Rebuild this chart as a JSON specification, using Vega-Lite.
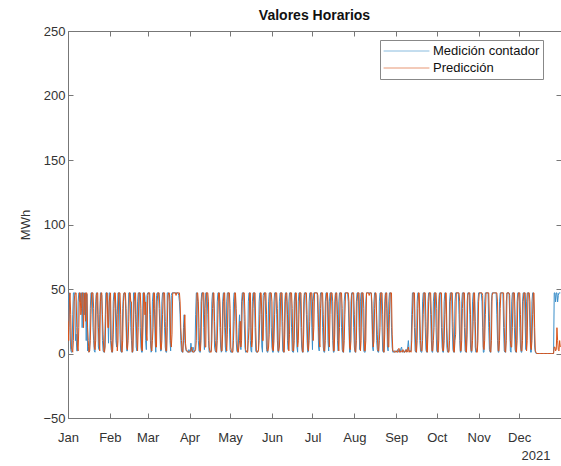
{
"$schema": "https://vega.github.io/schema/vega-lite/v6.json",
"autosize": {"type": "none"},
"padding": {"left": 68, "top": 31, "right": 0, "bottom": 48},
"width": 493,
"height": 387,
"background": "white",
"title": {"text": "Valores Horarios", "font": "Liberation Sans", "fontSize": 14, "fontWeight": "bold", "color": "#111", "anchor": "middle", "offset": 2},
"config": {
  "view": {"stroke": "#777", "strokeWidth": 1},
  "axis": {"grid": false, "domain": false, "labelFont": "Liberation Sans", "labelFontSize": 13, "labelColor": "#333", "titleFont": "Liberation Sans", "titleFontSize": 13, "titleFontWeight": "normal", "titleColor": "#333", "tickColor": "#777", "tickSize": -5}
},
"data": {"values": [
{"d":"2021-01-01","m":20,"p":25},{"d":"2021-01-02","m":47,"p":40},{"d":"2021-01-03","m":3,"p":30},{"d":"2021-01-04","m":1,"p":2},{"d":"2021-01-05","m":47,"p":10},{"d":"2021-01-06","m":47,"p":45},{"d":"2021-01-07","m":15,"p":47},{"d":"2021-01-08","m":2,"p":5},{"d":"2021-01-09","m":47,"p":20},{"d":"2021-01-10","m":40,"p":47},{"d":"2021-01-11","m":47,"p":35},{"d":"2021-01-12","m":47,"p":47},{"d":"2021-01-13","m":30,"p":40},{"d":"2021-01-14","m":47,"p":25},{"d":"2021-01-15","m":46,"p":47},{"d":"2021-01-16","m":5,"p":10},{"d":"2021-01-17","m":2,"p":2},{"d":"2021-01-18","m":47,"p":30},{"d":"2021-01-19","m":47,"p":47},{"d":"2021-01-20","m":10,"p":35},{"d":"2021-01-21","m":1,"p":3},{"d":"2021-01-22","m":47,"p":45},{"d":"2021-01-23","m":30,"p":47},{"d":"2021-01-24","m":3,"p":8},{"d":"2021-01-25","m":47,"p":40},{"d":"2021-01-26","m":45,"p":47},{"d":"2021-01-27","m":2,"p":15},{"d":"2021-01-28","m":1,"p":1},{"d":"2021-01-29","m":47,"p":30},{"d":"2021-01-30","m":47,"p":47},{"d":"2021-01-31","m":8,"p":20},
{"d":"2021-02-01","m":47,"p":45},{"d":"2021-02-02","m":3,"p":10},{"d":"2021-02-03","m":1,"p":2},{"d":"2021-02-04","m":47,"p":35},{"d":"2021-02-05","m":40,"p":47},{"d":"2021-02-06","m":5,"p":20},{"d":"2021-02-07","m":47,"p":10},{"d":"2021-02-08","m":47,"p":47},{"d":"2021-02-09","m":2,"p":30},{"d":"2021-02-10","m":1,"p":1},{"d":"2021-02-11","m":45,"p":40},{"d":"2021-02-12","m":47,"p":47},{"d":"2021-02-13","m":20,"p":35},{"d":"2021-02-14","m":2,"p":3},{"d":"2021-02-15","m":47,"p":25},{"d":"2021-02-16","m":47,"p":47},{"d":"2021-02-17","m":10,"p":40},{"d":"2021-02-18","m":1,"p":2},{"d":"2021-02-19","m":47,"p":40},{"d":"2021-02-20","m":30,"p":47},{"d":"2021-02-21","m":2,"p":10},{"d":"2021-02-22","m":47,"p":20},{"d":"2021-02-23","m":47,"p":47},{"d":"2021-02-24","m":5,"p":35},{"d":"2021-02-25","m":1,"p":2},{"d":"2021-02-26","m":47,"p":47},{"d":"2021-02-27","m":44,"p":30},{"d":"2021-02-28","m":3,"p":15},
{"d":"2021-03-01","m":47,"p":45},{"d":"2021-03-02","m":47,"p":47},{"d":"2021-03-03","m":10,"p":30},{"d":"2021-03-04","m":2,"p":2},{"d":"2021-03-05","m":47,"p":20},{"d":"2021-03-06","m":35,"p":47},{"d":"2021-03-07","m":1,"p":5},{"d":"2021-03-08","m":47,"p":40},{"d":"2021-03-09","m":47,"p":47},{"d":"2021-03-10","m":20,"p":35},{"d":"2021-03-11","m":2,"p":3},{"d":"2021-03-12","m":47,"p":30},{"d":"2021-03-13","m":47,"p":47},{"d":"2021-03-14","m":5,"p":25},{"d":"2021-03-15","m":1,"p":2},{"d":"2021-03-16","m":47,"p":45},{"d":"2021-03-17","m":40,"p":47},{"d":"2021-03-18","m":2,"p":10},{"d":"2021-03-19","m":47,"p":15},{"d":"2021-03-20","m":47,"p":47},{"d":"2021-03-21","m":47,"p":47},{"d":"2021-03-22","m":47,"p":45},{"d":"2021-03-23","m":47,"p":47},{"d":"2021-03-24","m":45,"p":47},{"d":"2021-03-25","m":30,"p":40},{"d":"2021-03-26","m":2,"p":10},{"d":"2021-03-27","m":1,"p":1},{"d":"2021-03-28","m":30,"p":20},{"d":"2021-03-29","m":5,"p":8},{"d":"2021-03-30","m":2,"p":2},{"d":"2021-03-31","m":1,"p":1},
{"d":"2021-04-01","m":2,"p":1},{"d":"2021-04-02","m":8,"p":3},{"d":"2021-04-03","m":1,"p":2},{"d":"2021-04-04","m":3,"p":1},{"d":"2021-04-05","m":2,"p":2},{"d":"2021-04-06","m":47,"p":10},{"d":"2021-04-07","m":40,"p":47},{"d":"2021-04-08","m":2,"p":20},{"d":"2021-04-09","m":1,"p":2},{"d":"2021-04-10","m":47,"p":40},{"d":"2021-04-11","m":47,"p":47},{"d":"2021-04-12","m":3,"p":30},{"d":"2021-04-13","m":47,"p":5},{"d":"2021-04-14","m":47,"p":47},{"d":"2021-04-15","m":10,"p":40},{"d":"2021-04-16","m":1,"p":2},{"d":"2021-04-17","m":2,"p":1},{"d":"2021-04-18","m":47,"p":35},{"d":"2021-04-19","m":35,"p":47},{"d":"2021-04-20","m":2,"p":10},{"d":"2021-04-21","m":1,"p":1},{"d":"2021-04-22","m":47,"p":30},{"d":"2021-04-23","m":47,"p":47},{"d":"2021-04-24","m":5,"p":20},{"d":"2021-04-25","m":2,"p":2},{"d":"2021-04-26","m":47,"p":40},{"d":"2021-04-27","m":20,"p":47},{"d":"2021-04-28","m":1,"p":8},{"d":"2021-04-29","m":47,"p":15},{"d":"2021-04-30","m":47,"p":47},
{"d":"2021-05-01","m":3,"p":35},{"d":"2021-05-02","m":1,"p":2},{"d":"2021-05-03","m":2,"p":1},{"d":"2021-05-04","m":47,"p":25},{"d":"2021-05-05","m":45,"p":47},{"d":"2021-05-06","m":2,"p":15},{"d":"2021-05-07","m":1,"p":1},{"d":"2021-05-08","m":30,"p":10},{"d":"2021-05-09","m":3,"p":5},{"d":"2021-05-10","m":47,"p":40},{"d":"2021-05-11","m":47,"p":47},{"d":"2021-05-12","m":5,"p":30},{"d":"2021-05-13","m":1,"p":2},{"d":"2021-05-14","m":2,"p":1},{"d":"2021-05-15","m":47,"p":20},{"d":"2021-05-16","m":10,"p":47},{"d":"2021-05-17","m":1,"p":5},{"d":"2021-05-18","m":47,"p":35},{"d":"2021-05-19","m":47,"p":47},{"d":"2021-05-20","m":2,"p":20},{"d":"2021-05-21","m":1,"p":1},{"d":"2021-05-22","m":3,"p":2},{"d":"2021-05-23","m":47,"p":30},{"d":"2021-05-24","m":30,"p":47},{"d":"2021-05-25","m":1,"p":10},{"d":"2021-05-26","m":47,"p":40},{"d":"2021-05-27","m":47,"p":47},{"d":"2021-05-28","m":3,"p":30},{"d":"2021-05-29","m":1,"p":2},{"d":"2021-05-30","m":47,"p":15},{"d":"2021-05-31","m":47,"p":47},
{"d":"2021-06-01","m":5,"p":40},{"d":"2021-06-02","m":1,"p":2},{"d":"2021-06-03","m":47,"p":30},{"d":"2021-06-04","m":47,"p":47},{"d":"2021-06-05","m":10,"p":35},{"d":"2021-06-06","m":1,"p":2},{"d":"2021-06-07","m":47,"p":20},{"d":"2021-06-08","m":47,"p":47},{"d":"2021-06-09","m":2,"p":25},{"d":"2021-06-10","m":1,"p":1},{"d":"2021-06-11","m":47,"p":45},{"d":"2021-06-12","m":40,"p":47},{"d":"2021-06-13","m":3,"p":10},{"d":"2021-06-14","m":47,"p":15},{"d":"2021-06-15","m":47,"p":47},{"d":"2021-06-16","m":2,"p":35},{"d":"2021-06-17","m":1,"p":2},{"d":"2021-06-18","m":47,"p":40},{"d":"2021-06-19","m":25,"p":47},{"d":"2021-06-20","m":1,"p":5},{"d":"2021-06-21","m":47,"p":30},{"d":"2021-06-22","m":47,"p":47},{"d":"2021-06-23","m":5,"p":20},{"d":"2021-06-24","m":1,"p":1},{"d":"2021-06-25","m":47,"p":45},{"d":"2021-06-26","m":47,"p":47},{"d":"2021-06-27","m":10,"p":30},{"d":"2021-06-28","m":2,"p":2},{"d":"2021-06-29","m":47,"p":25},{"d":"2021-06-30","m":47,"p":47},
{"d":"2021-07-01","m":3,"p":40},{"d":"2021-07-02","m":47,"p":20},{"d":"2021-07-03","m":47,"p":47},{"d":"2021-07-04","m":47,"p":47},{"d":"2021-07-05","m":30,"p":45},{"d":"2021-07-06","m":2,"p":10},{"d":"2021-07-07","m":47,"p":35},{"d":"2021-07-08","m":47,"p":47},{"d":"2021-07-09","m":5,"p":30},{"d":"2021-07-10","m":1,"p":2},{"d":"2021-07-11","m":47,"p":40},{"d":"2021-07-12","m":47,"p":47},{"d":"2021-07-13","m":2,"p":15},{"d":"2021-07-14","m":47,"p":30},{"d":"2021-07-15","m":47,"p":47},{"d":"2021-07-16","m":10,"p":40},{"d":"2021-07-17","m":1,"p":2},{"d":"2021-07-18","m":47,"p":45},{"d":"2021-07-19","m":40,"p":47},{"d":"2021-07-20","m":2,"p":10},{"d":"2021-07-21","m":47,"p":20},{"d":"2021-07-22","m":47,"p":47},{"d":"2021-07-23","m":3,"p":35},{"d":"2021-07-24","m":1,"p":1},{"d":"2021-07-25","m":47,"p":30},{"d":"2021-07-26","m":47,"p":47},{"d":"2021-07-27","m":47,"p":47},{"d":"2021-07-28","m":20,"p":40},{"d":"2021-07-29","m":1,"p":3},{"d":"2021-07-30","m":47,"p":45},{"d":"2021-07-31","m":47,"p":47},
{"d":"2021-08-01","m":5,"p":30},{"d":"2021-08-02","m":1,"p":1},{"d":"2021-08-03","m":47,"p":40},{"d":"2021-08-04","m":47,"p":47},{"d":"2021-08-05","m":3,"p":20},{"d":"2021-08-06","m":47,"p":10},{"d":"2021-08-07","m":47,"p":47},{"d":"2021-08-08","m":2,"p":35},{"d":"2021-08-09","m":1,"p":2},{"d":"2021-08-10","m":47,"p":47},{"d":"2021-08-11","m":47,"p":47},{"d":"2021-08-12","m":47,"p":45},{"d":"2021-08-13","m":47,"p":47},{"d":"2021-08-14","m":30,"p":40},{"d":"2021-08-15","m":2,"p":5},{"d":"2021-08-16","m":47,"p":35},{"d":"2021-08-17","m":45,"p":47},{"d":"2021-08-18","m":3,"p":15},{"d":"2021-08-19","m":1,"p":2},{"d":"2021-08-20","m":47,"p":20},{"d":"2021-08-21","m":47,"p":47},{"d":"2021-08-22","m":2,"p":30},{"d":"2021-08-23","m":1,"p":1},{"d":"2021-08-24","m":47,"p":45},{"d":"2021-08-25","m":35,"p":47},{"d":"2021-08-26","m":2,"p":5},{"d":"2021-08-27","m":47,"p":30},{"d":"2021-08-28","m":47,"p":47},{"d":"2021-08-29","m":5,"p":15},{"d":"2021-08-30","m":1,"p":2},{"d":"2021-08-31","m":2,"p":1},
{"d":"2021-09-01","m":1,"p":2},{"d":"2021-09-02","m":3,"p":1},{"d":"2021-09-03","m":2,"p":4},{"d":"2021-09-04","m":1,"p":1},{"d":"2021-09-05","m":5,"p":2},{"d":"2021-09-06","m":2,"p":3},{"d":"2021-09-07","m":1,"p":1},{"d":"2021-09-08","m":3,"p":2},{"d":"2021-09-09","m":2,"p":1},{"d":"2021-09-10","m":10,"p":5},{"d":"2021-09-11","m":1,"p":2},{"d":"2021-09-12","m":2,"p":1},{"d":"2021-09-13","m":47,"p":30},{"d":"2021-09-14","m":47,"p":47},{"d":"2021-09-15","m":2,"p":20},{"d":"2021-09-16","m":1,"p":1},{"d":"2021-09-17","m":47,"p":35},{"d":"2021-09-18","m":40,"p":47},{"d":"2021-09-19","m":2,"p":10},{"d":"2021-09-20","m":1,"p":2},{"d":"2021-09-21","m":47,"p":30},{"d":"2021-09-22","m":47,"p":47},{"d":"2021-09-23","m":3,"p":25},{"d":"2021-09-24","m":1,"p":1},{"d":"2021-09-25","m":47,"p":40},{"d":"2021-09-26","m":47,"p":47},{"d":"2021-09-27","m":10,"p":30},{"d":"2021-09-28","m":1,"p":2},{"d":"2021-09-29","m":47,"p":20},{"d":"2021-09-30","m":47,"p":47},
{"d":"2021-10-01","m":2,"p":35},{"d":"2021-10-02","m":1,"p":1},{"d":"2021-10-03","m":47,"p":45},{"d":"2021-10-04","m":47,"p":47},{"d":"2021-10-05","m":5,"p":20},{"d":"2021-10-06","m":1,"p":2},{"d":"2021-10-07","m":47,"p":30},{"d":"2021-10-08","m":30,"p":47},{"d":"2021-10-09","m":1,"p":5},{"d":"2021-10-10","m":2,"p":1},{"d":"2021-10-11","m":47,"p":40},{"d":"2021-10-12","m":47,"p":47},{"d":"2021-10-13","m":3,"p":25},{"d":"2021-10-14","m":1,"p":1},{"d":"2021-10-15","m":47,"p":15},{"d":"2021-10-16","m":47,"p":47},{"d":"2021-10-17","m":47,"p":47},{"d":"2021-10-18","m":10,"p":40},{"d":"2021-10-19","m":1,"p":2},{"d":"2021-10-20","m":47,"p":35},{"d":"2021-10-21","m":47,"p":47},{"d":"2021-10-22","m":2,"p":20},{"d":"2021-10-23","m":1,"p":1},{"d":"2021-10-24","m":47,"p":45},{"d":"2021-10-25","m":47,"p":47},{"d":"2021-10-26","m":5,"p":30},{"d":"2021-10-27","m":1,"p":2},{"d":"2021-10-28","m":47,"p":25},{"d":"2021-10-29","m":40,"p":47},{"d":"2021-10-30","m":1,"p":5},{"d":"2021-10-31","m":2,"p":1},
{"d":"2021-11-01","m":47,"p":40},{"d":"2021-11-02","m":47,"p":47},{"d":"2021-11-03","m":47,"p":47},{"d":"2021-11-04","m":20,"p":45},{"d":"2021-11-05","m":1,"p":3},{"d":"2021-11-06","m":47,"p":30},{"d":"2021-11-07","m":47,"p":47},{"d":"2021-11-08","m":47,"p":47},{"d":"2021-11-09","m":3,"p":25},{"d":"2021-11-10","m":1,"p":1},{"d":"2021-11-11","m":47,"p":45},{"d":"2021-11-12","m":47,"p":47},{"d":"2021-11-13","m":47,"p":47},{"d":"2021-11-14","m":47,"p":47},{"d":"2021-11-15","m":10,"p":40},{"d":"2021-11-16","m":1,"p":2},{"d":"2021-11-17","m":47,"p":35},{"d":"2021-11-18","m":47,"p":47},{"d":"2021-11-19","m":47,"p":47},{"d":"2021-11-20","m":2,"p":20},{"d":"2021-11-21","m":1,"p":1},{"d":"2021-11-22","m":47,"p":47},{"d":"2021-11-23","m":47,"p":47},{"d":"2021-11-24","m":30,"p":45},{"d":"2021-11-25","m":1,"p":5},{"d":"2021-11-26","m":47,"p":20},{"d":"2021-11-27","m":47,"p":47},{"d":"2021-11-28","m":3,"p":30},{"d":"2021-11-29","m":1,"p":1},{"d":"2021-11-30","m":47,"p":40},
{"d":"2021-12-01","m":47,"p":47},{"d":"2021-12-02","m":5,"p":30},{"d":"2021-12-03","m":1,"p":2},{"d":"2021-12-04","m":47,"p":40},{"d":"2021-12-05","m":47,"p":47},{"d":"2021-12-06","m":3,"p":25},{"d":"2021-12-07","m":47,"p":10},{"d":"2021-12-08","m":47,"p":47},{"d":"2021-12-09","m":20,"p":40},{"d":"2021-12-10","m":1,"p":3},{"d":"2021-12-11","m":47,"p":30},{"d":"2021-12-12","m":30,"p":47},{"d":"2021-12-13","m":1,"p":2},{"d":"2021-12-14","m":0,"p":0},{"d":"2021-12-15","m":0,"p":0},{"d":"2021-12-16","m":0,"p":0},{"d":"2021-12-17","m":0,"p":0},{"d":"2021-12-18","m":0,"p":0},{"d":"2021-12-19","m":0,"p":0},{"d":"2021-12-20","m":0,"p":0},{"d":"2021-12-21","m":0,"p":0},{"d":"2021-12-22","m":0,"p":0},{"d":"2021-12-23","m":0,"p":0},{"d":"2021-12-24","m":0,"p":0},{"d":"2021-12-25","m":0,"p":0},{"d":"2021-12-26","m":0,"p":0},{"d":"2021-12-27","m":47,"p":5},{"d":"2021-12-28","m":40,"p":2},{"d":"2021-12-29","m":47,"p":20},{"d":"2021-12-30","m":45,"p":3},{"d":"2021-12-31","m":47,"p":10},
{"d":"2021-01-01T12:00Z","m":45,"p":10},{"d":"2021-01-02T12:00Z","m":20,"p":47},{"d":"2021-01-03T12:00Z","m":1,"p":5},{"d":"2021-01-04T12:00Z","m":30,"p":1},{"d":"2021-01-05T12:00Z","m":47,"p":40},{"d":"2021-01-06T12:00Z","m":10,"p":47},{"d":"2021-01-07T12:00Z","m":2,"p":20},{"d":"2021-01-08T12:00Z","m":40,"p":2},{"d":"2021-01-09T12:00Z","m":47,"p":47},{"d":"2021-01-10T12:00Z","m":47,"p":30},{"d":"2021-01-11T12:00Z","m":20,"p":47},{"d":"2021-01-12T12:00Z","m":47,"p":20},{"d":"2021-01-13T12:00Z","m":47,"p":47},{"d":"2021-01-14T12:00Z","m":10,"p":47},{"d":"2021-01-15T12:00Z","m":2,"p":20},{"d":"2021-01-16T12:00Z","m":1,"p":1},{"d":"2021-01-17T12:00Z","m":35,"p":10},{"d":"2021-01-18T12:00Z","m":47,"p":47},{"d":"2021-01-19T12:00Z","m":20,"p":47},{"d":"2021-01-20T12:00Z","m":2,"p":5},{"d":"2021-01-21T12:00Z","m":40,"p":10},{"d":"2021-01-22T12:00Z","m":47,"p":47},{"d":"2021-01-23T12:00Z","m":5,"p":20},{"d":"2021-01-24T12:00Z","m":30,"p":2},{"d":"2021-01-25T12:00Z","m":47,"p":47},{"d":"2021-01-26T12:00Z","m":10,"p":30},{"d":"2021-01-27T12:00Z","m":1,"p":2},{"d":"2021-01-28T12:00Z","m":25,"p":5},{"d":"2021-01-29T12:00Z","m":47,"p":47},{"d":"2021-01-30T12:00Z","m":30,"p":20},{"d":"2021-01-31T12:00Z","m":47,"p":40},
{"d":"2021-02-01T12:00Z","m":10,"p":47},{"d":"2021-02-02T12:00Z","m":1,"p":1},{"d":"2021-02-03T12:00Z","m":40,"p":15},{"d":"2021-02-04T12:00Z","m":47,"p":47},{"d":"2021-02-05T12:00Z","m":10,"p":35},{"d":"2021-02-06T12:00Z","m":30,"p":2},{"d":"2021-02-07T12:00Z","m":47,"p":47},{"d":"2021-02-08T12:00Z","m":15,"p":47},{"d":"2021-02-09T12:00Z","m":1,"p":2},{"d":"2021-02-10T12:00Z","m":35,"p":10},{"d":"2021-02-11T12:00Z","m":47,"p":47},{"d":"2021-02-12T12:00Z","m":40,"p":47},{"d":"2021-02-13T12:00Z","m":2,"p":5},{"d":"2021-02-14T12:00Z","m":30,"p":10},{"d":"2021-02-15T12:00Z","m":47,"p":47},{"d":"2021-02-16T12:00Z","m":20,"p":40},{"d":"2021-02-17T12:00Z","m":1,"p":1},{"d":"2021-02-18T12:00Z","m":47,"p":20},{"d":"2021-02-19T12:00Z","m":47,"p":47},{"d":"2021-02-20T12:00Z","m":5,"p":25},{"d":"2021-02-21T12:00Z","m":40,"p":2},{"d":"2021-02-22T12:00Z","m":47,"p":47},{"d":"2021-02-23T12:00Z","m":20,"p":47},{"d":"2021-02-24T12:00Z","m":1,"p":3},{"d":"2021-02-25T12:00Z","m":47,"p":20},{"d":"2021-02-26T12:00Z","m":47,"p":47},{"d":"2021-02-27T12:00Z","m":10,"p":40},{"d":"2021-02-28T12:00Z","m":45,"p":10},
{"d":"2021-03-01T12:00Z","m":47,"p":47},{"d":"2021-03-02T12:00Z","m":30,"p":47},{"d":"2021-03-03T12:00Z","m":1,"p":5},{"d":"2021-03-04T12:00Z","m":40,"p":10},{"d":"2021-03-05T12:00Z","m":47,"p":47},{"d":"2021-03-06T12:00Z","m":10,"p":30},{"d":"2021-03-07T12:00Z","m":45,"p":5},{"d":"2021-03-08T12:00Z","m":47,"p":47},{"d":"2021-03-09T12:00Z","m":35,"p":47},{"d":"2021-03-10T12:00Z","m":2,"p":5},{"d":"2021-03-11T12:00Z","m":40,"p":10},{"d":"2021-03-12T12:00Z","m":47,"p":47},{"d":"2021-03-13T12:00Z","m":20,"p":47},{"d":"2021-03-14T12:00Z","m":1,"p":2},{"d":"2021-03-15T12:00Z","m":47,"p":20},{"d":"2021-03-16T12:00Z","m":47,"p":47},{"d":"2021-03-17T12:00Z","m":10,"p":40},{"d":"2021-03-18T12:00Z","m":45,"p":5},{"d":"2021-03-19T12:00Z","m":47,"p":47},{"d":"2021-03-20T12:00Z","m":47,"p":47},{"d":"2021-03-21T12:00Z","m":47,"p":47},{"d":"2021-03-22T12:00Z","m":47,"p":47},{"d":"2021-03-23T12:00Z","m":47,"p":47},{"d":"2021-03-24T12:00Z","m":40,"p":47},{"d":"2021-03-25T12:00Z","m":10,"p":20},{"d":"2021-03-26T12:00Z","m":1,"p":2},{"d":"2021-03-27T12:00Z","m":20,"p":10},{"d":"2021-03-28T12:00Z","m":10,"p":30},{"d":"2021-03-29T12:00Z","m":2,"p":3},{"d":"2021-03-30T12:00Z","m":1,"p":2},{"d":"2021-03-31T12:00Z","m":3,"p":1},
{"d":"2021-04-01T12:00Z","m":1,"p":2},{"d":"2021-04-02T12:00Z","m":2,"p":5},{"d":"2021-04-03T12:00Z","m":5,"p":1},{"d":"2021-04-04T12:00Z","m":1,"p":2},{"d":"2021-04-05T12:00Z","m":30,"p":3},{"d":"2021-04-06T12:00Z","m":47,"p":47},{"d":"2021-04-07T12:00Z","m":10,"p":40},{"d":"2021-04-08T12:00Z","m":1,"p":2},{"d":"2021-04-09T12:00Z","m":40,"p":10},{"d":"2021-04-10T12:00Z","m":47,"p":47},{"d":"2021-04-11T12:00Z","m":20,"p":47},{"d":"2021-04-12T12:00Z","m":35,"p":5},{"d":"2021-04-13T12:00Z","m":47,"p":47},{"d":"2021-04-14T12:00Z","m":30,"p":47},{"d":"2021-04-15T12:00Z","m":1,"p":5},{"d":"2021-04-16T12:00Z","m":2,"p":1},{"d":"2021-04-17T12:00Z","m":40,"p":10},{"d":"2021-04-18T12:00Z","m":47,"p":47},{"d":"2021-04-19T12:00Z","m":5,"p":25},{"d":"2021-04-20T12:00Z","m":1,"p":2},{"d":"2021-04-21T12:00Z","m":40,"p":10},{"d":"2021-04-22T12:00Z","m":47,"p":47},{"d":"2021-04-23T12:00Z","m":20,"p":40},{"d":"2021-04-24T12:00Z","m":1,"p":2},{"d":"2021-04-25T12:00Z","m":40,"p":15},{"d":"2021-04-26T12:00Z","m":47,"p":47},{"d":"2021-04-27T12:00Z","m":5,"p":20},{"d":"2021-04-28T12:00Z","m":40,"p":2},{"d":"2021-04-29T12:00Z","m":47,"p":47},{"d":"2021-04-30T12:00Z","m":20,"p":47},
{"d":"2021-05-01T12:00Z","m":1,"p":5},{"d":"2021-05-02T12:00Z","m":1,"p":1},{"d":"2021-05-03T12:00Z","m":40,"p":10},{"d":"2021-05-04T12:00Z","m":47,"p":47},{"d":"2021-05-05T12:00Z","m":10,"p":35},{"d":"2021-05-06T12:00Z","m":1,"p":2},{"d":"2021-05-07T12:00Z","m":20,"p":5},{"d":"2021-05-08T12:00Z","m":10,"p":25},{"d":"2021-05-09T12:00Z","m":40,"p":10},{"d":"2021-05-10T12:00Z","m":47,"p":47},{"d":"2021-05-11T12:00Z","m":25,"p":47},{"d":"2021-05-12T12:00Z","m":1,"p":3},{"d":"2021-05-13T12:00Z","m":2,"p":1},{"d":"2021-05-14T12:00Z","m":40,"p":10},{"d":"2021-05-15T12:00Z","m":47,"p":47},{"d":"2021-05-16T12:00Z","m":2,"p":20},{"d":"2021-05-17T12:00Z","m":40,"p":10},{"d":"2021-05-18T12:00Z","m":47,"p":47},{"d":"2021-05-19T12:00Z","m":20,"p":47},{"d":"2021-05-20T12:00Z","m":1,"p":2},{"d":"2021-05-21T12:00Z","m":2,"p":1},{"d":"2021-05-22T12:00Z","m":40,"p":10},{"d":"2021-05-23T12:00Z","m":47,"p":47},{"d":"2021-05-24T12:00Z","m":5,"p":30},{"d":"2021-05-25T12:00Z","m":45,"p":10},{"d":"2021-05-26T12:00Z","m":47,"p":47},{"d":"2021-05-27T12:00Z","m":20,"p":47},{"d":"2021-05-28T12:00Z","m":1,"p":2},{"d":"2021-05-29T12:00Z","m":40,"p":5},{"d":"2021-05-30T12:00Z","m":47,"p":47},{"d":"2021-05-31T12:00Z","m":20,"p":47},
{"d":"2021-06-01T12:00Z","m":1,"p":3},{"d":"2021-06-02T12:00Z","m":40,"p":10},{"d":"2021-06-03T12:00Z","m":47,"p":47},{"d":"2021-06-04T12:00Z","m":30,"p":47},{"d":"2021-06-05T12:00Z","m":1,"p":2},{"d":"2021-06-06T12:00Z","m":40,"p":5},{"d":"2021-06-07T12:00Z","m":47,"p":47},{"d":"2021-06-08T12:00Z","m":20,"p":47},{"d":"2021-06-09T12:00Z","m":1,"p":2},{"d":"2021-06-10T12:00Z","m":40,"p":15},{"d":"2021-06-11T12:00Z","m":47,"p":47},{"d":"2021-06-12T12:00Z","m":10,"p":30},{"d":"2021-06-13T12:00Z","m":40,"p":2},{"d":"2021-06-14T12:00Z","m":47,"p":47},{"d":"2021-06-15T12:00Z","m":20,"p":47},{"d":"2021-06-16T12:00Z","m":1,"p":2},{"d":"2021-06-17T12:00Z","m":40,"p":10},{"d":"2021-06-18T12:00Z","m":47,"p":47},{"d":"2021-06-19T12:00Z","m":5,"p":20},{"d":"2021-06-20T12:00Z","m":40,"p":10},{"d":"2021-06-21T12:00Z","m":47,"p":47},{"d":"2021-06-22T12:00Z","m":20,"p":47},{"d":"2021-06-23T12:00Z","m":1,"p":2},{"d":"2021-06-24T12:00Z","m":40,"p":15},{"d":"2021-06-25T12:00Z","m":47,"p":47},{"d":"2021-06-26T12:00Z","m":30,"p":47},{"d":"2021-06-27T12:00Z","m":1,"p":5},{"d":"2021-06-28T12:00Z","m":40,"p":10},{"d":"2021-06-29T12:00Z","m":47,"p":47},{"d":"2021-06-30T12:00Z","m":20,"p":47},
{"d":"2021-07-01T12:00Z","m":40,"p":10},{"d":"2021-07-02T12:00Z","m":47,"p":47},{"d":"2021-07-03T12:00Z","m":47,"p":47},{"d":"2021-07-04T12:00Z","m":47,"p":47},{"d":"2021-07-05T12:00Z","m":5,"p":20},{"d":"2021-07-06T12:00Z","m":40,"p":5},{"d":"2021-07-07T12:00Z","m":47,"p":47},{"d":"2021-07-08T12:00Z","m":20,"p":47},{"d":"2021-07-09T12:00Z","m":1,"p":2},{"d":"2021-07-10T12:00Z","m":40,"p":10},{"d":"2021-07-11T12:00Z","m":47,"p":47},{"d":"2021-07-12T12:00Z","m":10,"p":40},{"d":"2021-07-13T12:00Z","m":40,"p":5},{"d":"2021-07-14T12:00Z","m":47,"p":47},{"d":"2021-07-15T12:00Z","m":30,"p":47},{"d":"2021-07-16T12:00Z","m":1,"p":2},{"d":"2021-07-17T12:00Z","m":40,"p":15},{"d":"2021-07-18T12:00Z","m":47,"p":47},{"d":"2021-07-19T12:00Z","m":10,"p":30},{"d":"2021-07-20T12:00Z","m":40,"p":2},{"d":"2021-07-21T12:00Z","m":47,"p":47},{"d":"2021-07-22T12:00Z","m":20,"p":47},{"d":"2021-07-23T12:00Z","m":1,"p":2},{"d":"2021-07-24T12:00Z","m":40,"p":10},{"d":"2021-07-25T12:00Z","m":47,"p":47},{"d":"2021-07-26T12:00Z","m":47,"p":47},{"d":"2021-07-27T12:00Z","m":40,"p":47},{"d":"2021-07-28T12:00Z","m":1,"p":5},{"d":"2021-07-29T12:00Z","m":40,"p":10},{"d":"2021-07-30T12:00Z","m":47,"p":47},{"d":"2021-07-31T12:00Z","m":20,"p":47},
{"d":"2021-08-01T12:00Z","m":1,"p":2},{"d":"2021-08-02T12:00Z","m":40,"p":10},{"d":"2021-08-03T12:00Z","m":47,"p":47},{"d":"2021-08-04T12:00Z","m":20,"p":47},{"d":"2021-08-05T12:00Z","m":40,"p":2},{"d":"2021-08-06T12:00Z","m":47,"p":47},{"d":"2021-08-07T12:00Z","m":20,"p":47},{"d":"2021-08-08T12:00Z","m":1,"p":2},{"d":"2021-08-09T12:00Z","m":40,"p":10},{"d":"2021-08-10T12:00Z","m":47,"p":47},{"d":"2021-08-11T12:00Z","m":47,"p":47},{"d":"2021-08-12T12:00Z","m":47,"p":47},{"d":"2021-08-13T12:00Z","m":47,"p":47},{"d":"2021-08-14T12:00Z","m":5,"p":15},{"d":"2021-08-15T12:00Z","m":40,"p":10},{"d":"2021-08-16T12:00Z","m":47,"p":47},{"d":"2021-08-17T12:00Z","m":10,"p":30},{"d":"2021-08-18T12:00Z","m":1,"p":2},{"d":"2021-08-19T12:00Z","m":40,"p":10},{"d":"2021-08-20T12:00Z","m":47,"p":47},{"d":"2021-08-21T12:00Z","m":20,"p":47},{"d":"2021-08-22T12:00Z","m":1,"p":2},{"d":"2021-08-23T12:00Z","m":40,"p":15},{"d":"2021-08-24T12:00Z","m":47,"p":47},{"d":"2021-08-25T12:00Z","m":5,"p":20},{"d":"2021-08-26T12:00Z","m":40,"p":5},{"d":"2021-08-27T12:00Z","m":47,"p":47},{"d":"2021-08-28T12:00Z","m":20,"p":47},{"d":"2021-08-29T12:00Z","m":1,"p":2},{"d":"2021-08-30T12:00Z","m":2,"p":1},{"d":"2021-08-31T12:00Z","m":1,"p":2},
{"d":"2021-09-01T12:00Z","m":2,"p":1},{"d":"2021-09-02T12:00Z","m":1,"p":3},{"d":"2021-09-03T12:00Z","m":3,"p":1},{"d":"2021-09-04T12:00Z","m":4,"p":2},{"d":"2021-09-05T12:00Z","m":1,"p":1},{"d":"2021-09-06T12:00Z","m":1,"p":2},{"d":"2021-09-07T12:00Z","m":2,"p":1},{"d":"2021-09-08T12:00Z","m":1,"p":3},{"d":"2021-09-09T12:00Z","m":5,"p":2},{"d":"2021-09-10T12:00Z","m":3,"p":1},{"d":"2021-09-11T12:00Z","m":2,"p":2},{"d":"2021-09-12T12:00Z","m":30,"p":10},{"d":"2021-09-13T12:00Z","m":47,"p":47},{"d":"2021-09-14T12:00Z","m":20,"p":47},{"d":"2021-09-15T12:00Z","m":1,"p":2},{"d":"2021-09-16T12:00Z","m":40,"p":10},{"d":"2021-09-17T12:00Z","m":47,"p":47},{"d":"2021-09-18T12:00Z","m":10,"p":30},{"d":"2021-09-19T12:00Z","m":1,"p":2},{"d":"2021-09-20T12:00Z","m":40,"p":10},{"d":"2021-09-21T12:00Z","m":47,"p":47},{"d":"2021-09-22T12:00Z","m":20,"p":47},{"d":"2021-09-23T12:00Z","m":1,"p":2},{"d":"2021-09-24T12:00Z","m":40,"p":15},{"d":"2021-09-25T12:00Z","m":47,"p":47},{"d":"2021-09-26T12:00Z","m":30,"p":47},{"d":"2021-09-27T12:00Z","m":1,"p":2},{"d":"2021-09-28T12:00Z","m":40,"p":10},{"d":"2021-09-29T12:00Z","m":47,"p":47},{"d":"2021-09-30T12:00Z","m":20,"p":47},
{"d":"2021-10-01T12:00Z","m":1,"p":2},{"d":"2021-10-02T12:00Z","m":40,"p":10},{"d":"2021-10-03T12:00Z","m":47,"p":47},{"d":"2021-10-04T12:00Z","m":20,"p":47},{"d":"2021-10-05T12:00Z","m":1,"p":2},{"d":"2021-10-06T12:00Z","m":40,"p":10},{"d":"2021-10-07T12:00Z","m":47,"p":47},{"d":"2021-10-08T12:00Z","m":5,"p":20},{"d":"2021-10-09T12:00Z","m":2,"p":1},{"d":"2021-10-10T12:00Z","m":40,"p":10},{"d":"2021-10-11T12:00Z","m":47,"p":47},{"d":"2021-10-12T12:00Z","m":20,"p":47},{"d":"2021-10-13T12:00Z","m":1,"p":2},{"d":"2021-10-14T12:00Z","m":40,"p":10},{"d":"2021-10-15T12:00Z","m":47,"p":47},{"d":"2021-10-16T12:00Z","m":47,"p":47},{"d":"2021-10-17T12:00Z","m":30,"p":47},{"d":"2021-10-18T12:00Z","m":1,"p":2},{"d":"2021-10-19T12:00Z","m":40,"p":10},{"d":"2021-10-20T12:00Z","m":47,"p":47},{"d":"2021-10-21T12:00Z","m":20,"p":47},{"d":"2021-10-22T12:00Z","m":1,"p":2},{"d":"2021-10-23T12:00Z","m":40,"p":15},{"d":"2021-10-24T12:00Z","m":47,"p":47},{"d":"2021-10-25T12:00Z","m":30,"p":47},{"d":"2021-10-26T12:00Z","m":1,"p":2},{"d":"2021-10-27T12:00Z","m":40,"p":10},{"d":"2021-10-28T12:00Z","m":47,"p":47},{"d":"2021-10-29T12:00Z","m":5,"p":25},{"d":"2021-10-30T12:00Z","m":2,"p":1},{"d":"2021-10-31T12:00Z","m":40,"p":10},
{"d":"2021-11-01T12:00Z","m":47,"p":47},{"d":"2021-11-02T12:00Z","m":47,"p":47},{"d":"2021-11-03T12:00Z","m":40,"p":47},{"d":"2021-11-04T12:00Z","m":1,"p":5},{"d":"2021-11-05T12:00Z","m":40,"p":10},{"d":"2021-11-06T12:00Z","m":47,"p":47},{"d":"2021-11-07T12:00Z","m":47,"p":47},{"d":"2021-11-08T12:00Z","m":20,"p":47},{"d":"2021-11-09T12:00Z","m":1,"p":2},{"d":"2021-11-10T12:00Z","m":40,"p":10},{"d":"2021-11-11T12:00Z","m":47,"p":47},{"d":"2021-11-12T12:00Z","m":47,"p":47},{"d":"2021-11-13T12:00Z","m":47,"p":47},{"d":"2021-11-14T12:00Z","m":30,"p":47},{"d":"2021-11-15T12:00Z","m":1,"p":2},{"d":"2021-11-16T12:00Z","m":40,"p":10},{"d":"2021-11-17T12:00Z","m":47,"p":47},{"d":"2021-11-18T12:00Z","m":47,"p":47},{"d":"2021-11-19T12:00Z","m":20,"p":47},{"d":"2021-11-20T12:00Z","m":1,"p":2},{"d":"2021-11-21T12:00Z","m":40,"p":10},{"d":"2021-11-22T12:00Z","m":47,"p":47},{"d":"2021-11-23T12:00Z","m":47,"p":47},{"d":"2021-11-24T12:00Z","m":2,"p":10},{"d":"2021-11-25T12:00Z","m":40,"p":5},{"d":"2021-11-26T12:00Z","m":47,"p":47},{"d":"2021-11-27T12:00Z","m":20,"p":47},{"d":"2021-11-28T12:00Z","m":1,"p":2},{"d":"2021-11-29T12:00Z","m":40,"p":10},{"d":"2021-11-30T12:00Z","m":47,"p":47},
{"d":"2021-12-01T12:00Z","m":20,"p":47},{"d":"2021-12-02T12:00Z","m":1,"p":2},{"d":"2021-12-03T12:00Z","m":40,"p":10},{"d":"2021-12-04T12:00Z","m":47,"p":47},{"d":"2021-12-05T12:00Z","m":20,"p":47},{"d":"2021-12-06T12:00Z","m":40,"p":2},{"d":"2021-12-07T12:00Z","m":47,"p":47},{"d":"2021-12-08T12:00Z","m":40,"p":47},{"d":"2021-12-09T12:00Z","m":1,"p":5},{"d":"2021-12-10T12:00Z","m":40,"p":10},{"d":"2021-12-11T12:00Z","m":47,"p":47},{"d":"2021-12-12T12:00Z","m":5,"p":20},{"d":"2021-12-13T12:00Z","m":0,"p":1},{"d":"2021-12-26T12:00Z","m":0,"p":0},{"d":"2021-12-27T12:00Z","m":47,"p":5},{"d":"2021-12-28T12:00Z","m":47,"p":3},{"d":"2021-12-29T12:00Z","m":40,"p":10},{"d":"2021-12-30T12:00Z","m":47,"p":2},{"d":"2021-12-31T12:00Z","m":47,"p":5}
]},
"transform": [{"fold": ["m", "p"], "as": ["serie", "valor"]}],
"layer": [
  {
    "mark": {"type": "line", "strokeWidth": 1, "clip": true},
    "encoding": {
      "x": {"field": "d", "type": "temporal", "scale": {"domain": ["2021-01-01T00:00:00Z", "2022-01-01T00:00:00Z"]},
            "axis": {"format": "%b", "labelFlush": false, "values": [{"year":2021,"month":1,"date":1},{"year":2021,"month":2,"date":1},{"year":2021,"month":3,"date":1},{"year":2021,"month":4,"date":1},{"year":2021,"month":5,"date":1},{"year":2021,"month":6,"date":1},{"year":2021,"month":7,"date":1},{"year":2021,"month":8,"date":1},{"year":2021,"month":9,"date":1},{"year":2021,"month":10,"date":1},{"year":2021,"month":11,"date":1},{"year":2021,"month":12,"date":1}], "labelPadding": 18, "title": "2021", "titleAnchor": "end", "titleAlign": "right", "titlePadding": 5, "titleX": 482}},
      "y": {"field": "valor", "type": "quantitative", "scale": {"domain": [-50, 250], "nice": false},
            "axis": {"values": [-50, 0, 50, 100, 150, 200, 250], "title": "MWh", "labelPadding": 8, "titlePadding": 10}},
      "color": {"field": "serie", "type": "nominal",
        "scale": {"domain": ["m", "p"], "range": ["#3b8fca", "#d95319"]},
        "legend": {"title": null, "orient": "none", "legendX": 312, "legendY": 9, "labelExpr": "datum.label == 'm' ? 'Medición contador' : 'Predicción'", "labelFont": "Liberation Sans", "labelFontSize": 13, "labelColor": "#111", "symbolType": "stroke", "symbolSize": 2100, "symbolStrokeWidth": 1, "symbolOpacity": 0.6, "clipHeight": 16, "fillColor": "white", "strokeColor": "#888", "padding": 3, "rowPadding": 1, "labelOffset": 3}}
    }
  },
  {
    "transform": [{"filter": "false"}],
    "mark": {"type": "rule"},
    "encoding": {
      "x": {"field": "d", "type": "temporal", "axis": {"orient": "top", "labels": false, "title": null, "values": [{"year":2021,"month":1,"date":1},{"year":2021,"month":2,"date":1},{"year":2021,"month":3,"date":1},{"year":2021,"month":4,"date":1},{"year":2021,"month":5,"date":1},{"year":2021,"month":6,"date":1},{"year":2021,"month":7,"date":1},{"year":2021,"month":8,"date":1},{"year":2021,"month":9,"date":1},{"year":2021,"month":10,"date":1},{"year":2021,"month":11,"date":1},{"year":2021,"month":12,"date":1}]}},
      "y": {"field": "valor", "type": "quantitative", "axis": {"orient": "right", "labels": false, "title": null, "values": [-50, 0, 50, 100, 150, 200, 250]}}
    }
  }
],
"resolve": {"axis": {"x": "independent", "y": "independent"}}
}
